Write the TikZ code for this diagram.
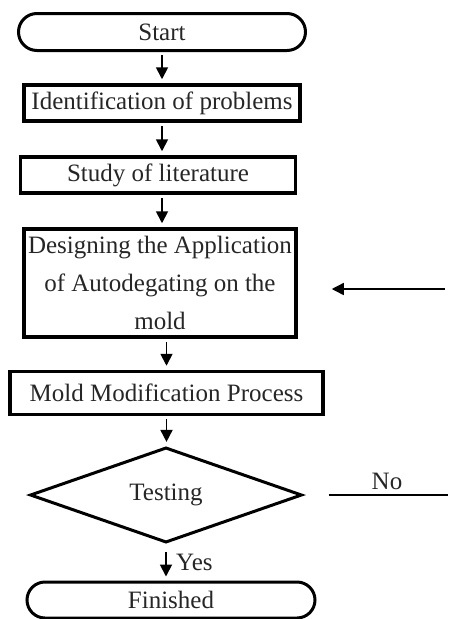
\documentclass[tikz,border=0pt]{standalone}
\usepackage{fontspec}
\setmainfont{Liberation Serif}
\usetikzlibrary{calc, arrows.meta, shapes.geometric, shapes.misc}

\begin{document}
\begin{tikzpicture}[x=1pt, y=-1pt,
            term/.style={rounded rectangle, draw, line width=3pt, inner sep=0pt},
            box/.style={rectangle, draw, line width=3.5pt, inner sep=0pt, align=center},
            test/.style={diamond, draw, line width=3pt, inner sep=0pt},
            arr/.style={line width=1.8pt, -{Triangle[length=12pt,width=12pt]}, shorten <=3pt, shorten >=4pt},
            every node/.style={font=\fontsize{25}{38}\selectfont, text=black!85}]
            \useasboundingbox (0,0) rectangle (448,619);
            \node[term, minimum width=287pt, minimum height=37pt] (start) at (162,32) {Start};
            \node[box, minimum width=276pt, minimum height=36pt] (ident) at (162,103) {Identification of problems};
            \node[box, minimum width=275pt, minimum height=36pt] (study) at (158,175) {Study of literature};
            \node[box, minimum width=272pt, minimum height=108pt] (design) at (160,283)
                {Designing the Application\\of Autodegating on the\\mold};
            \node[box, minimum width=313pt, minimum height=43pt] (modif) at (166.5,393) {Mold Modification Process};
            \node[test, minimum width=272pt, minimum height=75pt] (testing) at (166,495) {Testing};
            \node[term, minimum width=288pt, minimum height=36pt] (finish) at (171,600) {Finished};
            \coordinate (noend) at (448,495);
            \coordinate (backin) at (448,289);
            \draw[arr] (start.south -| ident.north) -- (ident.north);
            \draw[arr] (ident.south) -- (ident.south |- study.north);
            \draw[arr] (ident.south |- study.south) -- (ident.south |- design.north);
            \draw[arr] (modif.north |- design.south) -- (modif.north);
            \draw[arr] (modif.south) -- (modif.south |- testing.north);
            \draw[arr, shorten <=8pt] (testing.south) -- (testing.south |- finish.north) node[midway, right=6pt] (yes) {Yes};
            \draw[line width=1.2pt, shorten <=25pt] (testing.east) -- (noend);
            \node (no) at (387,481) {No};
            \draw[arr, line width=1.4pt, shorten >=34pt] (backin) -- (backin -| design.east);
        \end{tikzpicture}
\end{document}
